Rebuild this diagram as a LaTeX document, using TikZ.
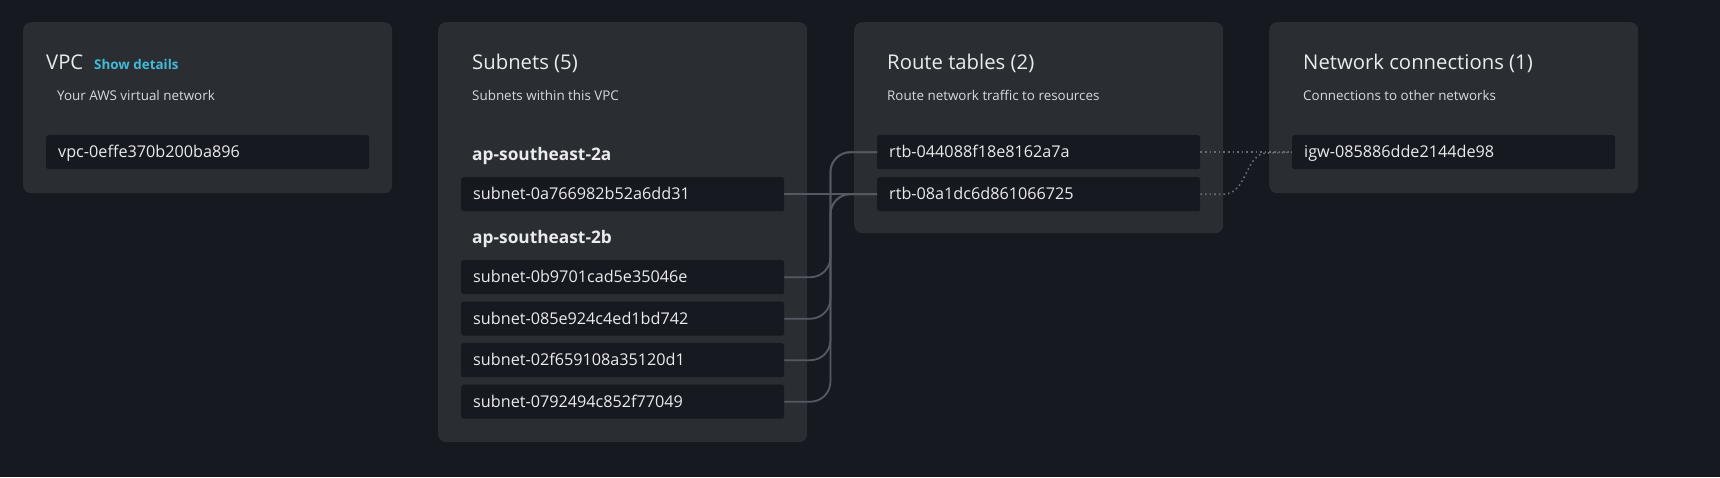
\documentclass[tikz,border=0pt]{standalone}
\usepackage{fontspec}
\setmainfont{Open Sans}
\usepackage{xcolor}
\definecolor{awsbg}{RGB}{22,25,31}
\definecolor{awspanel}{RGB}{42,46,51}
\definecolor{awsbox}{RGB}{22,25,31}
\definecolor{awstext}{RGB}{233,235,237}
\definecolor{awssub}{RGB}{214,218,222}
\definecolor{awsblue}{RGB}{68,185,214}
\definecolor{awslink}{RGB}{84,89,98}
\definecolor{awsdot}{RGB}{104,109,117}

\begin{document}
\begin{tikzpicture}[x=1pt, y=-1pt,
  panel/.style={fill=awspanel, rounded corners=8pt, anchor=north west, inner sep=0pt, minimum width=369pt},
  idbox/.style={fill=awsbox, rounded corners=2.5pt, anchor=north west, inner sep=0pt, minimum width=323pt, minimum height=34pt,
    text width=299pt, align=left, text=awstext, font=\fontsize{16.2}{19}\selectfont, text height=11.5pt, text depth=0pt},
  title/.style={anchor=base west, inner sep=0pt, text=awstext, font=\fontsize{20.3}{24}\selectfont},
  subtitle/.style={anchor=base west, inner sep=0pt, text=awssub, font=\fontsize{13.4}{16}\selectfont},
  zone/.style={anchor=base west, inner sep=0pt, text=awstext, font=\bfseries\fontsize{17.3}{20}\selectfont},
  link/.style={awslink, line width=1.8pt, rounded corners=20pt},
  dotlink/.style={awsdot, line width=1.6pt, dash pattern=on 1.6pt off 3pt}]
  \useasboundingbox (0,0) rectangle (1720,477);
  \fill[awsbg] (0,0) rectangle (1720,477);

  % panels
  \node[panel, minimum height=171pt] (vpcpanel) at (23,22) {};
  \node[panel, minimum height=420pt] (subpanel) at (438,22) {};
  \node[panel, minimum height=211pt] (rtbpanel) at (854,22) {};
  \node[panel, minimum height=171pt] (netpanel) at (1269,22) {};

  % VPC
  \node[title] (vpctitle) at (46,69) {VPC};
  \node[anchor=base west, inner sep=0pt, text=awsblue, font=\bfseries\fontsize{13.4}{16}\selectfont] (vpcshow) at (94,69) {Show details};
  \node[subtitle] (vpcsub) at (57,100) {Your AWS virtual network};
  \node[idbox] (vpc) at (46,135) {vpc-0effe370b200ba896};

  % Subnets
  \node[title] (subtitle) at (472,69) {Subnets (5)};
  \node[subtitle] (subsub) at (472,100) {Subnets within this VPC};
  \node[zone] (zonea) at (472,160) {ap-southeast-2a};
  \node[idbox] (s1) at (461,177) {subnet-0a766982b52a6dd31};
  \node[zone] (zoneb) at (472,243) {ap-southeast-2b};
  \foreach \name/\id [count=\i] in {s2/0b9701cad5e35046e, s3/085e924c4ed1bd742, s4/02f659108a35120d1, s5/0792494c852f77049}{
    \pgfmathsetmacro\ytop{260+(\i-1)*41.5}
    \node[idbox] (\name) at (461,\ytop) {subnet-\id};
  }

  % Route tables
  \node[title] (rtbtitle) at (887,69) {Route tables (2)};
  \node[subtitle] (rtbsub) at (887,100) {Route network traffic to resources};
  \node[idbox] (rtb1) at (877,135) {rtb-044088f18e8162a7a};
  \node[idbox] (rtb2) at (877,177) {rtb-08a1dc6d861066725};

  % Network connections
  \node[title] (nettitle) at (1303,69) {Network connections (1)};
  \node[subtitle] (netsub) at (1303,100) {Connections to other networks};
  \node[idbox] (igw) at (1292,135) {igw-085886dde2144de98};

  % subnet associations
  \draw[link] (s1.east) -- (rtb2.west);
  \draw[link] (s2.east) -- ++(46,0) |- (rtb1.west);
  \draw[link] (s3.east) -- ++(46,0) |- (rtb1.west);
  \draw[link] (s4.east) -- ++(46,0) |- (rtb2.west);
  \draw[link] (s5.east) -- ++(46,0) |- (rtb2.west);

  % routes to the gateway
  \coordinate (igwjoin) at (1267,153);
  \draw[dotlink] (rtb1.east) -- (igw.west);
  \draw[dotlink] (rtb2.east) -- ++(23,0) .. controls +(24,0) and +(-22,0) .. (igwjoin) -- (igw.west);
\end{tikzpicture}
\end{document}
